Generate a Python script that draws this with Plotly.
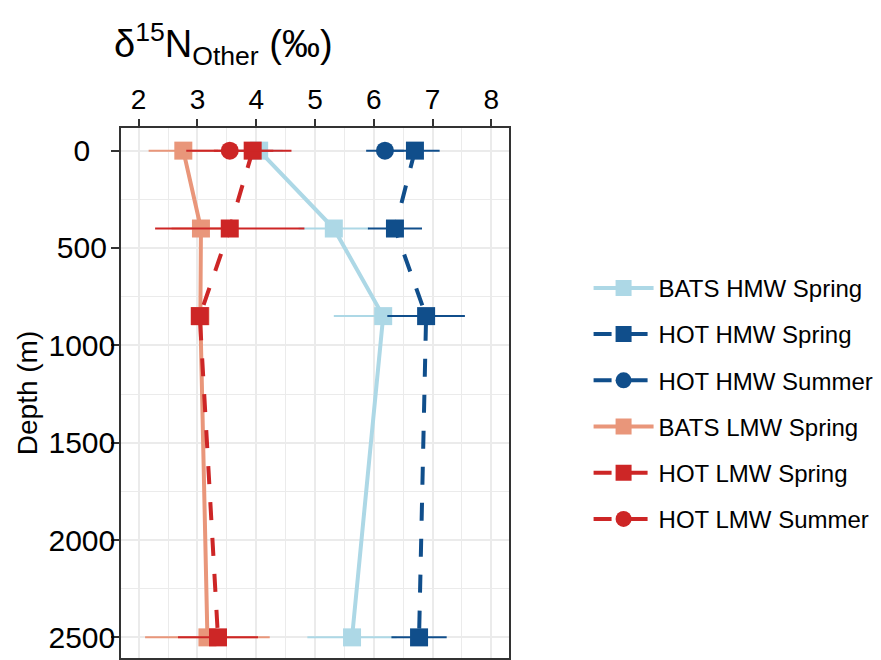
import plotly.graph_objects as go

# ---- data ----
depth = [0, 400, 850, 2500]
depth_summer = [0]

bats_hmw_spring = [4.05, 5.32, 6.16, 5.63]
bats_hmw_spring_err = [0.40, 0.60, 0.84, 0.76]

hot_hmw_spring = [6.70, 6.36, 6.89, 6.77]
hot_hmw_spring_err = [0.42, 0.46, 0.66, 0.47]

hot_hmw_summer = [6.19]
hot_hmw_summer_err = [0.32]

bats_lmw_spring = [2.76, 3.06, 3.05, 3.17]
bats_lmw_spring_err = [0.59, 0.50, 0.10, 1.06]

hot_lmw_spring = [3.94, 3.55, 3.04, 3.35]
hot_lmw_spring_err = [0.66, 1.27, 0.10, 0.68]

hot_lmw_summer = [3.55]
hot_lmw_summer_err = [0.74]

x_ticks = [2, 3, 4, 5, 6, 7, 8]
y_ticks = [0, 500, 1000, 1500, 2000, 2500]

series = [
    ("BATS HMW Spring", bats_hmw_spring, bats_hmw_spring_err, depth, "#ADD8E6", "square", "solid"),
    ("HOT HMW Spring", hot_hmw_spring, hot_hmw_spring_err, depth, "#104E8B", "square", "18px,18px"),
    ("HOT HMW Summer", hot_hmw_summer, hot_hmw_summer_err, depth_summer, "#104E8B", "circle", "18px,18px"),
    ("BATS LMW Spring", bats_lmw_spring, bats_lmw_spring_err, depth, "#E9967A", "square", "solid"),
    ("HOT LMW Spring", hot_lmw_spring, hot_lmw_spring_err, depth, "#CD2626", "square", "18px,18px"),
    ("HOT LMW Summer", hot_lmw_summer, hot_lmw_summer_err, depth_summer, "#CD2626", "circle", "18px,18px"),
]

FONT = "Arial, 'Liberation Sans', sans-serif"

fig = go.Figure()
for name, xs, errs, ys, color, sym, dash in series:
    fig.add_trace(go.Scatter(
        x=xs, y=ys, name=name, mode="lines+markers",
        legendgroup=name,
        line=dict(color=color, width=4, dash=dash),
        marker=dict(color=color, symbol=sym, size=18, line=dict(width=0)),
        error_x=dict(type="data", array=errs, visible=True, color=color,
                     thickness=2, width=0),
    ))

# y tick labels centred (pad short labels with nbsp on the right)
def centre(lbl, maxlen=4):
    return lbl + "\u00a0" * (maxlen - len(lbl))

W, H = 881, 660
left, right_px, top = 120.7, 509.3, 128.3
px_per_m = (639.3 - 151.0) / 2500.0
y_top = -(151.0 - top) / px_per_m
y_bot = (H - 151.0) / px_per_m

fig.update_layout(
    width=W, height=H,
    margin=dict(l=left, r=W - right_px, t=top, b=0, pad=0),
    paper_bgcolor="white", plot_bgcolor="white",
    font=dict(family=FONT, color="black"),
    showlegend=True,
    legend=dict(
        x=(589 - left) / (right_px - left), xanchor="left",
        y=(H - 405) / (H - top), yanchor="middle",
        font=dict(size=24, family=FONT, color="black"),
        tracegroupgap=12, bgcolor="rgba(0,0,0,0)",
        itemsizing="trace", itemwidth=60,
    ),
    xaxis=dict(
        side="top", range=[1.7, 8.3], tickvals=x_ticks,
        ticktext=[str(v) for v in x_ticks],
        tickfont=dict(size=28, color="black"),
        ticks="outside", ticklen=7, tickwidth=1.5, tickcolor="#333333",
        showgrid=True, gridcolor="#EBEBEB", gridwidth=2,
        minor=dict(dtick=0.5, tick0=1.5, showgrid=True, gridcolor="#EBEBEB", gridwidth=1.2),
        showline=True, linecolor="#333333", linewidth=1.5, mirror=True,
        zeroline=False, ticklabelstandoff=-1,
    ),
    yaxis=dict(
        range=[y_bot, y_top], tickvals=y_ticks,
        ticktext=[centre(str(v)) for v in y_ticks],
        tickfont=dict(size=30, color="black"),
        ticks="outside", ticklen=8, tickwidth=1.5, tickcolor="#333333",
        showgrid=True, gridcolor="#EBEBEB", gridwidth=2,
        minor=dict(dtick=250, tick0=250, showgrid=True, gridcolor="#EBEBEB", gridwidth=1.2),
        showline=True, linecolor="#333333", linewidth=1.5, mirror=True,
        zeroline=False, ticklabelstandoff=-10,
        title=dict(text="Depth (m)", font=dict(size=28, color="black"), standoff=3),
        automargin=False,
    ),
    title=dict(
        text="δ<sup>15</sup>N<sub>Other</sub> (‰)",
        x=114 / W, xanchor="left", xref="container",
        y=1 - 44 / H, yanchor="middle", yref="container",
        font=dict(size=38, color="black", family=FONT),
    ),
)

fig.write_html("out.html")
